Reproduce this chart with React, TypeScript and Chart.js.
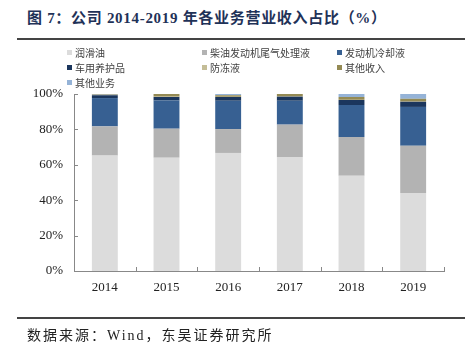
import React, { useEffect, useRef } from "react";
import { Chart, registerables } from "chart.js";

Chart.register(...registerables);

const years = ["2014", "2015", "2016", "2017", "2018", "2019"];
const seriesNames = ["润滑油", "柴油发动机尾气处理液", "发动机冷却液", "车用养护品", "防冻液", "其他收入", "其他业务"];
const lubricant = [65.2, 64.0, 66.7, 64.4, 53.8, 44.1];
const dieselFluid = [16.5, 16.4, 13.5, 18.3, 21.9, 26.7];
const coolant = [16.0, 16.0, 16.0, 13.5, 18.1, 21.9];
const careProducts = [1.6, 1.9, 2.1, 2.3, 2.8, 2.9];
const antifreeze = [0.1, 0.2, 0.1, 0.1, 0.1, 0.1];
const otherIncome = [0.3, 1.5, 0.9, 1.4, 1.6, 1.6];
const otherBusiness = [0.3, 0.0, 0.7, 0.0, 1.7, 2.7];
const seriesColors = ["#dcdcdc", "#b3b3b3", "#376092", "#1b365d", "#c4bd97", "#948a54", "#95b3d7"];
const yTicks = [0, 20, 40, 60, 80, 100];

const serif = "'Liberation Serif', 'Times New Roman', 'Noto Sans CJK SC', serif";
const cjk = "'Liberation Serif', 'Noto Sans CJK SC', sans-serif";

const innerTicks = {
  id: "innerTicks",
  afterDraw(chart: any) {
    const ctx = chart.ctx;
    const x = chart.scales.x;
    const y = chart.scales.y;
    const area = chart.chartArea;
    ctx.save();
    ctx.strokeStyle = "#888888";
    ctx.lineWidth = 1;
    ctx.beginPath();
    y.ticks.forEach((t: any) => {
      const py = Math.round(y.getPixelForValue(t.value)) + 0.5;
      ctx.moveTo(area.left, py);
      ctx.lineTo(area.left + 4, py);
    });
    const n = x.ticks.length;
    for (let i = 0; i <= n; i++) {
      const px = Math.round(x.getPixelForValue(i - 0.5)) + 0.5;
      ctx.moveTo(px, area.bottom);
      ctx.lineTo(px, area.bottom - 4);
    }
    ctx.stroke();
    ctx.restore();
  },
};

export default function App() {
  const ref = useRef<HTMLCanvasElement | null>(null);
  useEffect(() => {
    if (!ref.current) return;
    const all = [lubricant, dieselFluid, coolant, careProducts, antifreeze, otherIncome, otherBusiness];
    const chart = new Chart(ref.current, {
      type: "bar",
      data: {
        labels: years,
        datasets: all.map((d, i) => ({
          label: seriesNames[i],
          data: d,
          backgroundColor: seriesColors[i],
          borderWidth: 0,
          barPercentage: 0.42,
          categoryPercentage: 1,
        })),
      },
      plugins: [innerTicks],
      options: {
        animation: false,
        responsive: false,
        maintainAspectRatio: false,
        layout: { padding: { left: 0, right: 25, top: 94, bottom: 48 } },
        plugins: { legend: { display: false }, tooltip: { enabled: false } },
        scales: {
          x: {
            stacked: true,
            grid: { display: false, drawTicks: false },
            border: { display: true, color: "#888888", width: 1 },
            ticks: { color: "#222222", font: { family: serif, size: 13 }, padding: 9 },
            afterFit: (s: any) => { s.height = 30; },
          },
          y: {
            stacked: true,
            min: 0,
            max: 100,
            afterBuildTicks: (s: any) => { s.ticks = yTicks.map((v) => ({ value: v })); },
            grid: { display: false, drawTicks: false },
            border: { display: true, color: "#888888", width: 1 },
            ticks: {
              color: "#222222",
              font: { family: serif, size: 13 },
              padding: 11,
              callback: (v: any) => v + "%",
            },
            afterFit: (s: any) => { s.width = 74; },
          },
        },
      },
    });
    return () => chart.destroy();
  }, []);

  const colX = [67, 202, 337];
  const rowY = [52, 67, 82];

  return (
    <div style={{ position: "absolute", left: 0, top: 0, width: 469, height: 349, background: "#fff", overflow: "hidden" }}>
      <div style={{ position: "absolute", left: 27, top: 6, fontFamily: cjk, fontWeight: "bold", fontSize: 15, letterSpacing: 0.7, color: "#1f3258", whiteSpace: "nowrap" }}>
        图 7：公司 2014-2019 年各业务营业收入占比（%）
      </div>
      <div style={{ position: "absolute", left: 17, top: 38, width: 448, height: 2, background: "#444" }} />
      <canvas ref={ref} width={469} height={349} style={{ position: "absolute", left: 0, top: 0 }} />
      {seriesNames.map((name, i) => (
        <div key={name} style={{ position: "absolute", left: colX[i % 3], top: rowY[Math.floor(i / 3)] - 7, height: 14, display: "flex", alignItems: "center", fontFamily: cjk, fontSize: 10, color: "#404040", whiteSpace: "nowrap" }}>
          <span style={{ display: "inline-block", width: 5, height: 5, background: seriesColors[i], marginRight: 3 }} />
          {name}
        </div>
      ))}
      <div style={{ position: "absolute", left: 17, top: 317, width: 448, height: 2, background: "#444" }} />
      <div style={{ position: "absolute", left: 27, top: 324, fontFamily: cjk, fontSize: 14, letterSpacing: 2, color: "#222", whiteSpace: "nowrap" }}>
        数据来源：Wind，东吴证券研究所
      </div>
    </div>
  );
}
